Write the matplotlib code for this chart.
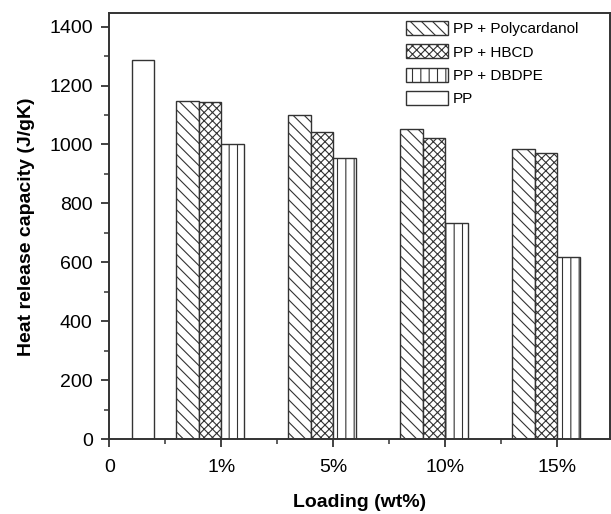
import matplotlib.pyplot as plt
from matplotlib.ticker import MultipleLocator
import numpy as np

plt.rcParams['font.family'] = ['Liberation Sans', 'DejaVu Sans']
plt.rcParams['hatch.linewidth'] = 0.8
plt.rcParams['hatch.color'] = '#444444'

# ======================== data ========================
loading_labels = ['0', '1%', '5%', '10%', '15%']
pp_value = [1285]
polycardanol = [1148, 1099, 1054, 985]
hbcd = [1144, 1042, 1023, 972]
dbdpe = [1003, 953, 735, 620]

# ======================== plot ========================
fig = plt.figure(figsize=(6.11, 5.14), dpi=100)
ax = fig.add_axes([109.3 / 611, (514 - 439.3) / 514, 500.5 / 611, 426 / 514])

x = np.arange(1, len(loading_labels))
w = 0.2
edge = '#333333'

ax.bar(x - 0.3, polycardanol, w, facecolor='white', edgecolor=edge, hatch='\\\\\\', lw=1, label='PP + Polycardanol')
ax.bar(x - 0.1, hbcd, w, facecolor='white', edgecolor=edge, hatch='xxxx', lw=1, label='PP + HBCD')
ax.bar(x + 0.1, dbdpe, w, facecolor='white', edgecolor=edge, hatch='||', lw=1, label='PP + DBDPE')
ax.bar([0.3], pp_value, w, facecolor='white', edgecolor=edge, lw=1, label='PP')

ax.set_xlim(0, 4.47)
ax.set_ylim(0, 1445)
ax.set_xticks(np.arange(len(loading_labels)))
ax.set_xticklabels(loading_labels)
ax.xaxis.set_minor_locator(MultipleLocator(0.5))
ax.yaxis.set_major_locator(MultipleLocator(200))
ax.yaxis.set_minor_locator(MultipleLocator(100))

for s in ax.spines.values():
    s.set_linewidth(1.4)
    s.set_color('#333333')
ax.tick_params(which='major', direction='out', length=6, width=1.3, color='#333333', labelsize=14, pad=6)
ax.tick_params(axis='x', which='major', pad=8)
ax.tick_params(which='minor', direction='out', length=3.5, width=1.1, color='#333333')

ax.set_xlabel('Loading (wt%)', fontsize=14, fontweight='bold', labelpad=13)
ax.set_ylabel('Heat release capacity (J/gK)', fontsize=14, fontweight='bold', labelpad=10)

ax.legend(loc='upper left', bbox_to_anchor=(406 / 611, 1 - 21 / 514), bbox_transform=fig.transFigure,
          frameon=False, fontsize=11, handlelength=2.75, handleheight=1.0, handletextpad=0.3,
          labelspacing=0.55, borderpad=0, borderaxespad=0)

fig.savefig('out.png', dpi=100)
